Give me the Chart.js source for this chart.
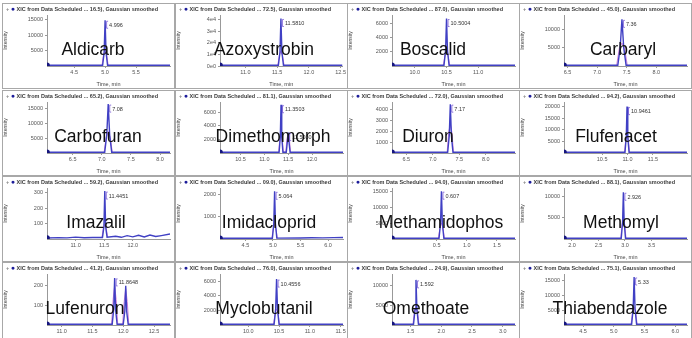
<!DOCTYPE html>
<html>
<head>
<meta charset="utf-8">
<script src="https://cdn.jsdelivr.net/npm/chart.js@4"></script>
<style>
  body { margin: 0; background: #fff; width: 692px; height: 338px; overflow: hidden; position: relative; font-family: Arial, "Liberation Sans", sans-serif; }
  .panel { position: absolute; box-sizing: border-box; border: 1px solid #a8a8a8; background: #fff; overflow: hidden; }
  .panel .box { position: absolute; left: 0; top: 0; right: 0; bottom: 0; }
  .hdr { position: absolute; left: 3px; top: 1px; font-size: 5.5px; font-weight: bold; color: #3a3a3a; white-space: nowrap; }
  .hdr .p { color: #888; }
  .hdr .d { color: #1b1b9a; font-size: 7px; }
  .name { position: absolute; font-size: 17.5px; color: #111; white-space: nowrap; transform: translate(-50%, -50%); }
</style>
</head>
<body>
<script>
// panels, left-to-right, top-to-bottom
const compounds = ['Aldicarb', 'Azoxystrobin', 'Boscalid', 'Carbaryl', 'Carbofuran', 'Dimethomorph', 'Diuron', 'Flufenacet',
  'Imazalil', 'Imidacloprid', 'Methamidophos', 'Methomyl', 'Lufenuron', 'Myclobutanil', 'Omethoate', 'Thiabendazole'];
const xicTags = ['16.5', '72.5', '87.0', '45.0', '65.2', '81.1', '72.0', '94.2', '59.2', '09.0', '94.0', '88.1', '41.2', '76.0', '24.9', '75.1'];
const peakLabels = [['4.996'], ['11.5810'], ['10.5004'], ['7.36'], ['7.08'], ['11.3503', '11.5030'], ['7.17'], ['10.9461'],
  ['11.4451'], ['5.064'], ['0.607'], ['2.926'], ['11.8648'], ['10.4556'], ['1.592'], ['5.33']];

const xMin = [4.06, 10.6, 9.64, 6.44, 6.06, 10.07, 6.23, 9.75, 10.5, 4.04, -0.24, 1.85, 10.76, 9.54, 1.2, 4.19];
const xMax = [6.05, 12.53, 11.58, 8.52, 8.17, 12.65, 8.55, 12.17, 12.65, 6.27, 1.8, 4.17, 12.76, 11.54, 3.2, 6.19];
const xTicks = [[4.5, 5.0, 5.5], [11.0, 11.5, 12.0, 12.5], [10.0, 10.5, 11.0], [6.5, 7.0, 7.5, 8.0],
  [6.5, 7.0, 7.5, 8.0], [10.5, 11.0, 11.5, 12.0], [6.5, 7.0, 7.5, 8.0], [10.5, 11.0, 11.5],
  [11.0, 11.5, 12.0], [4.5, 5.0, 5.5, 6.0], [0.5, 1.0, 1.5], [2.0, 2.5, 3.0, 3.5],
  [11.0, 11.5, 12.0, 12.5], [10.0, 10.5, 11.0, 11.5], [1.5, 2.0, 2.5, 3.0], [4.5, 5.0, 5.5, 6.0]];

const yMax = [16500, 44000, 7200, 14000, 17000, 7500, 4700, 22000, 330, 2300, 16000, 12000, 260, 7000, 13000, 17000];
const yTicks = [[5000, 10000, 15000], [0, 10000, 20000, 30000, 40000], [2000, 4000, 6000], [5000, 10000],
  [5000, 10000, 15000], [2000, 4000, 6000], [1000, 2000, 3000, 4000], [5000, 10000, 15000, 20000],
  [100, 200, 300], [1000, 2000], [5000, 10000, 15000], [5000, 10000],
  [100, 200], [2000, 4000, 6000], [5000, 10000], [5000, 10000, 15000]];
const yTickText = [null, ['0e0', '1e4', '2e4', '3e4', '4e4'], null, null, null, null, null, null,
  null, null, null, null, null, null, null, null];

// smoothed XIC trace (blue) and second transition (pink)
const blueX = [
  [4.06, 4.96, 4.985, 5.0, 5.015, 5.04, 6.05],
  [10.6, 11.52, 11.545, 11.56, 11.575, 11.6, 12.53],
  [9.64, 10.46, 10.485, 10.5, 10.515, 10.54, 11.58],
  [6.44, 7.35, 7.39, 7.42, 7.45, 7.49, 8.52],
  [6.06, 7.05, 7.085, 7.11, 7.135, 7.17, 8.17],
  [10.07, 11.31, 11.335, 11.35, 11.365, 11.39, 11.46, 11.485, 11.5, 11.515, 11.54, 12.65],
  [6.23, 7.28, 7.31, 7.33, 7.35, 7.38, 8.55],
  [9.75, 10.95, 10.975, 10.99, 11.005, 11.03, 12.17],
  [10.5, 10.7, 10.85, 11.0, 11.15, 11.3, 11.47, 11.495, 11.51, 11.525, 11.55, 11.7, 11.8, 11.9, 12.0, 12.1, 12.2, 12.3, 12.4, 12.5, 12.65],
  [4.04, 4.99, 5.015, 5.03, 5.045, 5.07, 5.5, 5.7, 5.9, 6.1, 6.27],
  [-0.24, 0.54, 0.565, 0.58, 0.595, 0.62, 1.8],
  [1.85, 2.93, 2.955, 2.97, 2.985, 3.01, 4.17],
  [10.76, 11.82, 11.845, 11.86, 11.875, 11.9, 12.0, 12.025, 12.04, 12.055, 12.08, 12.76],
  [9.54, 10.42, 10.445, 10.46, 10.475, 10.5, 11.54],
  [1.2, 1.55, 1.575, 1.59, 1.605, 1.63, 3.2],
  [4.19, 5.29, 5.315, 5.33, 5.345, 5.37, 6.19]
];
const blueY = [
  [250, 250, 4500, 14800, 4500, 250, 250],
  [700, 700, 12000, 41000, 12000, 700, 700],
  [110, 110, 2200, 6700, 2200, 110, 110],
  [220, 220, 5000, 12800, 5000, 220, 220],
  [270, 270, 6000, 16300, 6000, 270, 270],
  [120, 120, 2400, 7100, 2400, 120, 120, 1800, 3000, 1800, 120, 120],
  [75, 75, 1600, 4500, 1600, 75, 75],
  [350, 350, 7000, 20000, 7000, 350, 350],
  [6, 9, 7, 12, 8, 10, 10, 80, 310, 80, 12, 18, 11, 22, 14, 24, 13, 26, 16, 22, 32],
  [35, 35, 700, 2150, 700, 40, 45, 55, 50, 60, 70],
  [250, 250, 5000, 15000, 5000, 250, 250],
  [190, 190, 4000, 11000, 4000, 190, 190],
  [4, 4, 80, 240, 80, 4, 4, 70, 200, 70, 4, 4],
  [110, 110, 2200, 6300, 2200, 110, 110],
  [200, 200, 4000, 11500, 4000, 200, 200],
  [270, 270, 5500, 16000, 5500, 270, 270]
];
const pinkX = [
  [4.95, 4.975, 5.0, 5.025, 5.05],
  [11.51, 11.535, 11.56, 11.585, 11.61],
  [10.45, 10.475, 10.5, 10.525, 10.55],
  [7.33, 7.375, 7.42, 7.465, 7.51],
  [7.04, 7.075, 7.11, 7.145, 7.18],
  [11.3, 11.325, 11.35, 11.375, 11.4, 11.45, 11.475, 11.5, 11.525, 11.55],
  [7.27, 7.3, 7.33, 7.36, 7.39],
  [10.94, 10.965, 10.99, 11.015, 11.04],
  [11.46, 11.485, 11.51, 11.535, 11.56],
  [4.98, 5.005, 5.03, 5.055, 5.08],
  [0.53, 0.555, 0.58, 0.605, 0.63],
  [2.92, 2.945, 2.97, 2.995, 3.02],
  [11.81, 11.835, 11.86, 11.885, 11.91, 11.99, 12.015, 12.04, 12.065, 12.09],
  [10.41, 10.435, 10.46, 10.485, 10.51],
  [1.54, 1.565, 1.59, 1.615, 1.64],
  [5.28, 5.305, 5.33, 5.355, 5.38]
];
const pinkY = [
  [250, 3600, 5000, 3600, 250],
  [700, 9000, 13000, 9000, 700],
  [110, 1500, 2200, 1500, 110],
  [220, 4800, 6300, 4800, 220],
  [270, 5200, 7200, 5200, 270],
  [120, 2100, 2900, 2100, 120, 120, 2100, 2900, 2100, 120],
  [75, 1900, 2700, 1900, 75],
  [350, 5800, 8000, 5800, 350],
  [10, 70, 95, 70, 12],
  [35, 450, 650, 450, 40],
  [250, 3500, 5000, 3500, 250],
  [190, 3300, 4600, 3300, 190],
  [4, 130, 200, 130, 4, 4, 120, 185, 120, 4],
  [110, 1500, 2200, 1500, 110],
  [200, 3200, 4500, 3200, 200],
  [270, 4200, 6000, 4200, 270]
];

// grid layout
const colLeft = [2, 175, 347, 519];
const rowTop = [3, 90, 176, 262];
const PW = 173, PH = 86;
const nameShift = [90, 88, 85, 103, 95, 97, 80, 96, 93, 93, 93, 101, 82, 88, 78, 90];

// retention time tag at each labelled apex
const peakTags = {
  id: 'peakTags',
  afterDatasetsDraw(chart, args, opts) {
    const i = opts.idx;
    const ys = blueY[i];
    const pts = chart.getDatasetMeta(0).data;
    const ctx = chart.ctx;
    let n = 0;
    ctx.save();
    ctx.font = '5.5px Arial';
    ctx.fillStyle = '#333';
    ctx.strokeStyle = '#7a5ad6';
    ctx.lineWidth = 0.8;
    for (let k = 1; k < ys.length - 1; k++) {
      if (ys[k] > ys[k - 1] && ys[k] > ys[k + 1] && ys[k] > yMax[i] * 0.25 && n < peakLabels[i].length) {
        const p = pts[k];
        ctx.beginPath();
        ctx.moveTo(p.x + 3, p.y + 1);
        ctx.lineTo(p.x + 1.5, p.y + 1);
        ctx.lineTo(p.x + 1.5, p.y + 8);
        ctx.lineTo(p.x + 3, p.y + 8);
        ctx.stroke();
        ctx.fillText(peakLabels[i][n], p.x + 4, p.y + 6.5);
        n++;
      }
    }
    ctx.restore();
  }
};

function makePanel(i) {
  const L = colLeft[i % 4], T = rowTop[Math.floor(i / 4)];
  const panel = document.createElement('div');
  panel.className = 'panel';
  panel.style.left = L + 'px';
  panel.style.top = T + 'px';
  panel.style.width = PW + 'px';
  panel.style.height = PH + 'px';
  panel.innerHTML = `<div class="box"><canvas></canvas></div>
    <div class="hdr"><span class="p">+</span> <span class="d">●</span> XIC from Data Scheduled ... ${xicTags[i]}), Gaussian smoothed</div>
    <div class="name" style="left:${nameShift[i]}px;top:45px">${compounds[i]}</div>`;
  document.body.appendChild(panel);

  const blue = blueX[i].map((x, k) => ({ x, y: blueY[i][k] }));
  const pink = pinkX[i].map((x, k) => ({ x, y: pinkY[i][k] }));
  const small = { family: 'Arial', size: 5.5 };

  new Chart(panel.querySelector('canvas'), {
    type: 'line',
    data: {
      datasets: [
        { data: blue, borderColor: '#4040c4', borderWidth: 1.4, tension: 0,
          pointRadius: c => c.dataIndex === 0 ? 2.8 : 0, pointBackgroundColor: '#15157e', pointBorderWidth: 0 },
        { data: pink, borderColor: '#d586d8', borderWidth: 1, tension: 0, pointRadius: 0 }
      ]
    },
    options: {
      responsive: true,
      maintainAspectRatio: false,
      animation: false,
      events: [],
      layout: { padding: { top: 11, right: 3, left: 0, bottom: 0 } },
      plugins: { legend: { display: false }, tooltip: { enabled: false }, peakTags: { idx: i } },
      scales: {
        x: {
          type: 'linear', min: xMin[i], max: xMax[i],
          afterBuildTicks: s => { s.ticks = xTicks[i].map(v => ({ value: v })); },
          afterFit: s => { s.height = 22; },
          ticks: { font: small, color: '#555', padding: 1, maxRotation: 0, autoSkip: false, callback: v => v.toFixed(1) },
          grid: { display: true, drawOnChartArea: false, tickLength: 2, color: '#999' },
          border: { color: '#999' },
          title: { display: true, text: 'Time, min', font: small, color: '#444', padding: { top: 0, bottom: 0 } }
        },
        y: {
          min: 0, max: yMax[i],
          afterBuildTicks: s => { s.ticks = yTicks[i].map(v => ({ value: v })); },
          afterFit: s => { s.width = 44; },
          ticks: { font: small, color: '#555', padding: 2, callback: (v, k) => yTickText[i] ? yTickText[i][k] : v },
          grid: { display: true, drawOnChartArea: false, tickLength: 2, color: '#999' },
          border: { color: '#999' },
          title: { display: true, text: 'Intensity', font: { family: 'Arial', size: 5 }, color: '#444', padding: { top: 0, bottom: 3 } }
        }
      }
    },
    plugins: [peakTags]
  });
}

compounds.forEach((c, i) => makePanel(i));
</script>
</body>
</html>
